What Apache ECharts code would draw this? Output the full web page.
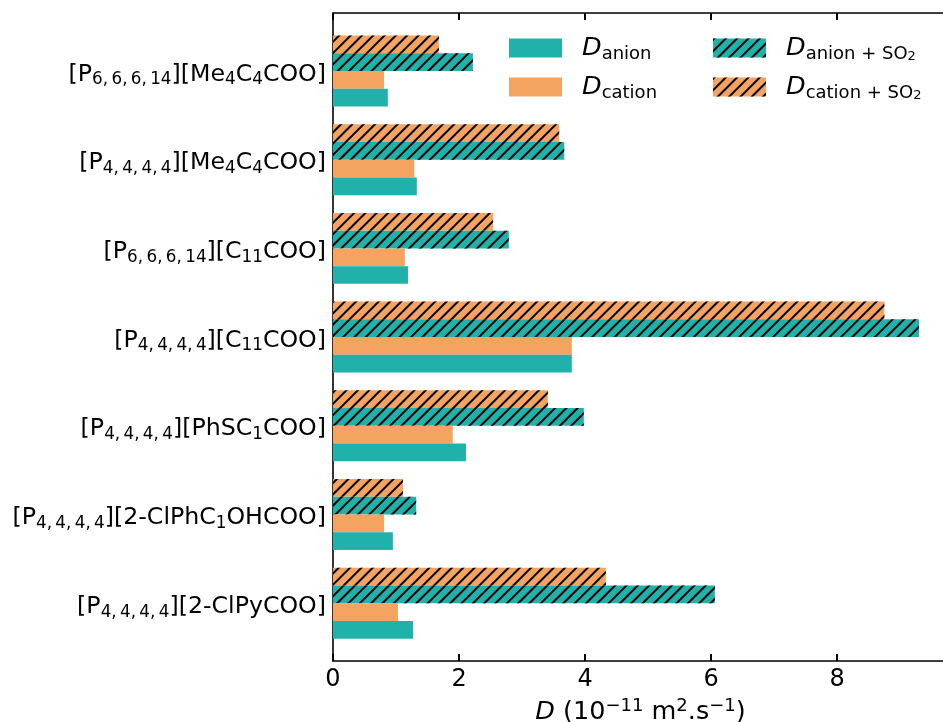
<!DOCTYPE html>
<html><head><meta charset="utf-8">
<script src="https://cdn.jsdelivr.net/npm/echarts@6/dist/echarts.min.js"></script>
<style>html,body{margin:0;padding:0;background:#fff}#c{width:943px;height:722px}</style>
</head><body><div id="c"></div>
<script>
const categories = [
  '[P_{6, 6, 6, 14}][Me_{4}C_{4}COO]',
  '[P_{4, 4, 4, 4}][Me_{4}C_{4}COO]',
  '[P_{6, 6, 6, 14}][C_{11}COO]',
  '[P_{4, 4, 4, 4}][C_{11}COO]',
  '[P_{4, 4, 4, 4}][PhSC_{1}COO]',
  '[P_{4, 4, 4, 4}][2-ClPhC_{1}OHCOO]',
  '[P_{4, 4, 4, 4}][2-ClPyCOO]'
];
const cationSO2 = [1.68, 3.59, 2.54, 8.75, 3.41, 1.11, 4.33];
const anionSO2  = [2.22, 3.67, 2.79, 9.30, 3.98, 1.32, 6.06];
const cation    = [0.81, 1.29, 1.14, 3.79, 1.90, 0.81, 1.03];
const anion     = [0.87, 1.33, 1.19, 3.79, 2.11, 0.95, 1.27];
const xTicks = [0, 2, 4, 6, 8];
const legendLabels = {
  anion: '{d|D}{s|anion}',
  cation: '{d|D}{s|cation}',
  anionSO2: '{d|D}{s|anion + SO}{ss|2}',
  cationSO2: '{d|D}{s|cation + SO}{ss|2}'
};
const xTitle = '{i|D}{n| (10}{sup|\u221211}{n| m}{sup|2}{n|.s}{sup|\u22121}{n|)}';

const FONT = 'DejaVu Sans';
const TEAL = '#20b2aa', ORANGE = '#f4a460';

function toRich(s) {
  return s.split(/(_\{[^}]*\})/).filter(Boolean).map(p =>
    p.startsWith('_{') ? '{s|' + p.slice(2, -1).replace(/, /g, ',\u2009') + '}' : '{m|' + p + '}'
  ).join('');
}

const hatch = {
  symbol: 'rect', symbolSize: 1, color: '#000',
  dashArrayX: [1, 0], dashArrayY: [2, 6], rotation: -Math.PI / 4
};

const XMAX = 9.76;
const chart = echarts.init(document.getElementById('c'), null, {renderer: 'canvas'});
const legendText = {
  fontFamily: FONT, color: '#000', padding: [0, 0, 0, 15],
  rich: {
    d: {fontFamily: FONT, fontSize: 25.5, fontStyle: 'italic', lineHeight: 30, color: '#000'},
    s: {fontFamily: FONT, fontSize: 18, lineHeight: 14, verticalAlign: 'bottom', color: '#000'},
    ss: {fontFamily: FONT, fontSize: 13, lineHeight: 4, verticalAlign: 'bottom', color: '#000'}
  }
};
chart.setOption({
  animation: false,
  backgroundColor: '#fff',
  grid: [
    {left: 333, top: 26.6, width: 615, height: 621, containLabel: false, outerBoundsMode: 'none'},
    {left: 333, top: 13, width: 615, height: 648, containLabel: false, outerBoundsMode: 'none'}
  ],
  legend: [
    {data: ['anion', 'cation'], orient: 'vertical', left: 509, top: 35, padding: 0,
     itemWidth: 53, itemHeight: 19, itemGap: 11, icon: 'rect',
     formatter: n => legendLabels[n], textStyle: legendText},
    {data: ['anionSO2', 'cationSO2'], orient: 'vertical', left: 713, top: 35, padding: 0,
     itemWidth: 53, itemHeight: 19, itemGap: 11, icon: 'rect',
     formatter: n => legendLabels[n], textStyle: legendText}
  ],
  xAxis: [
    {gridIndex: 0, type: 'value', min: 0, max: XMAX, show: false},
    {gridIndex: 1, type: 'value', min: 0, max: XMAX, interval: 2, position: 'bottom',
     axisLine: {show: true, onZero: false, lineStyle: {color: '#000', width: 1.6}},
     axisTick: {show: true, inside: true, length: 7, lineStyle: {color: '#000', width: 2}},
     axisLabel: {show: true, margin: 7, fontSize: 24, fontFamily: FONT, color: '#000', showMaxLabel: false,
       formatter: v => xTicks.indexOf(v) >= 0 ? String(v) : ''},
     splitLine: {show: false},
     name: xTitle, nameLocation: 'middle', nameGap: 26,
     nameTextStyle: {color: '#000', rich: {
       i: {fontFamily: FONT, fontSize: 25.5, fontStyle: 'italic', lineHeight: 30, color: '#000'},
       n: {fontFamily: FONT, fontSize: 25.5, lineHeight: 30, color: '#000'},
       sup: {fontFamily: FONT, fontSize: 18, lineHeight: 22, verticalAlign: 'top', color: '#000'}
     }}},
    {gridIndex: 1, type: 'value', min: 0, max: XMAX, interval: 2, position: 'top',
     axisLine: {show: true, onZero: false, lineStyle: {color: '#000', width: 1.6}},
     axisTick: {show: true, inside: true, length: 7, lineStyle: {color: '#000', width: 2}},
     axisLabel: {show: false}, splitLine: {show: false}}
  ],
  yAxis: [
    {gridIndex: 0, type: 'category', data: categories, inverse: true,
     axisLine: {show: false}, axisTick: {show: false}, splitLine: {show: false},
     axisLabel: {show: true, margin: 7, formatter: toRich, color: '#000', padding: [7, 0, 0, 0],
       rich: {
         m: {fontFamily: FONT, fontSize: 23.7, lineHeight: 28, color: '#000'},
         s: {fontFamily: FONT, fontSize: 16.8, lineHeight: 17, verticalAlign: 'bottom', color: '#000'}
       }}},
    {gridIndex: 1, type: 'value', min: 0, max: 1,
     axisLine: {show: true, onZero: false, lineStyle: {color: '#000', width: 1.6}},
     axisTick: {show: false}, axisLabel: {show: false}, splitLine: {show: false}}
  ],
  series: [
    {name: 'cationSO2', type: 'bar', xAxisIndex: 0, yAxisIndex: 0, data: cationSO2,
     barGap: '0%', barCategoryGap: '20%', itemStyle: {color: ORANGE, decal: hatch}},
    {name: 'anionSO2', type: 'bar', xAxisIndex: 0, yAxisIndex: 0, data: anionSO2,
     barGap: '0%', barCategoryGap: '20%', itemStyle: {color: TEAL, decal: hatch}},
    {name: 'cation', type: 'bar', xAxisIndex: 0, yAxisIndex: 0, data: cation,
     barGap: '0%', barCategoryGap: '20%', itemStyle: {color: ORANGE}},
    {name: 'anion', type: 'bar', xAxisIndex: 0, yAxisIndex: 0, data: anion,
     barGap: '0%', barCategoryGap: '20%', itemStyle: {color: TEAL}}
  ]
});
</script></body></html>
